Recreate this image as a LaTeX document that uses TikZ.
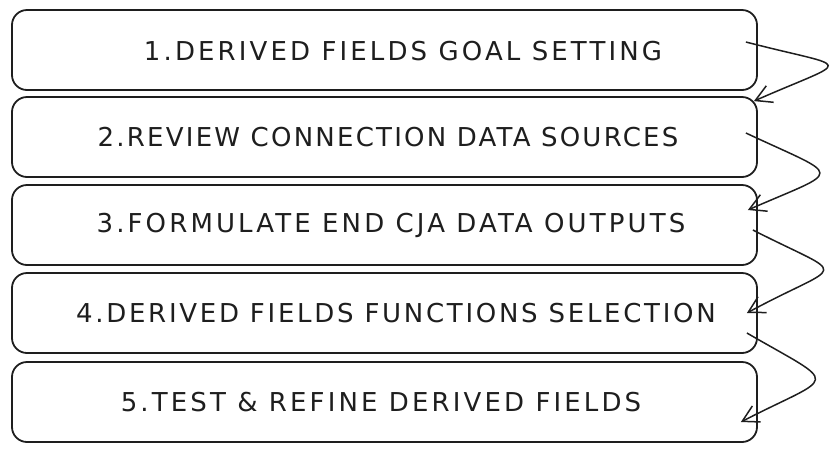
\documentclass[tikz,border=0pt]{standalone}
\usepackage{fontspec}
\setmainfont{DejaVu Sans}[LetterSpace=12]
\usetikzlibrary{arrows.meta,calc}
\definecolor{ink}{HTML}{1E1E1E}
\tikzset{
  stepbox/.style={draw=ink, line width=0.9pt, rounded corners=7.5pt, minimum width=372.5pt, minimum height=40pt, inner sep=0pt},
  lbl/.style={text=ink, font=\fontsize{13}{15}\selectfont, inner sep=0pt},
  arr/.style={draw=ink, line width=0.75pt, -{Straight Barb[length=8pt,width=9pt]}}
}
\begin{document}
\begin{tikzpicture}[x=0.5pt,y=-0.5pt]
\useasboundingbox (0,0) rectangle (837,451);
\node[stepbox] (box1) at (384.5,50){};
\node[stepbox] (box2) at (384.5,137){};
\node[stepbox] (box3) at (384.5,225){};
\node[stepbox] (box4) at (384.5,313){};
\node[stepbox] (box5) at (384.5,402){};
\node[lbl] (txt1) at (403,51){1.DERIVED FIELDS GOAL SETTING};
\node[lbl] (txt2) at (388,137){\addfontfeatures{LetterSpace=8.6}2.REVIEW CONNECTION DATA SOURCES};
\node[lbl] (txt3) at (391,225){3.FORMULATE END CJA DATA OUTPUTS};
\node[lbl] (txt4) at (396,313){\addfontfeatures{LetterSpace=10.4}4.DERIVED FIELDS FUNCTIONS SELECTION};
\node[lbl] (txt5) at (381,402){5.TEST \& REFINE DERIVED FIELDS};
\draw[arr] ($(box1.east)+(-12,-8)$) .. controls +(108,28) and +(100,-44) .. ($(box2.north east)+(-4,5)$);
\draw[arr] ($(box2.east)+(-12,-4)$) .. controls +(98,46) and +(96,-42) .. ($(box3.east)+(-10,-15)$);
\draw[arr] ($(box3.east)+(-5,5)$) .. controls +(98,50) and +(98,-53) .. ($(box4.east)+(-11,0)$);
\draw[arr] ($(box4.east)+(-11,20)$) .. controls +(95,55) and +(95,-49) .. ($(box5.east)+(-17,20)$);
\end{tikzpicture}
\end{document}
